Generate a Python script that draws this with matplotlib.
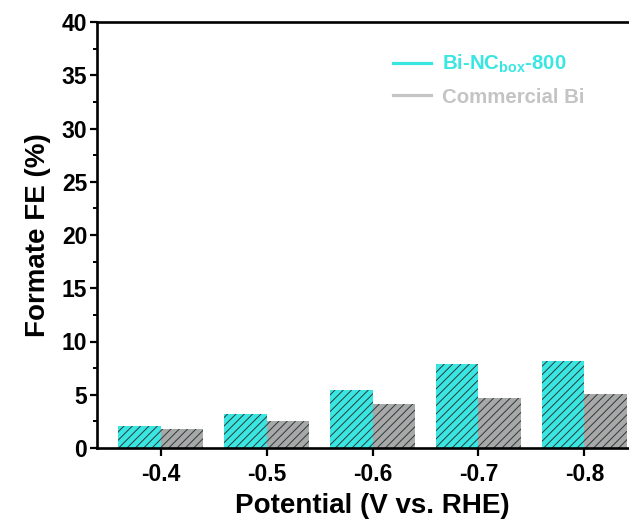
import matplotlib
matplotlib.use("Agg")
import matplotlib.pyplot as plt
import numpy as np
from matplotlib.ticker import MultipleLocator

# =========================
# Data
# =========================
potentials = ["-0.4", "-0.5", "-0.6", "-0.7", "-0.8"]
fe_binc = [2.1, 3.2, 5.4, 7.85, 8.15]
fe_commercial = [1.8, 2.5, 4.15, 4.7, 5.05]

series_names = [r"Bi-NC$_\mathbf{box}$-800", "Commercial Bi"]

CYAN = "#3ae6e2"
GRAY = "#a8a8a8"

# =========================
# Style
# =========================
plt.rcParams["font.family"] = ["Liberation Sans", "DejaVu Sans"]
plt.rcParams["font.weight"] = "bold"
plt.rcParams["mathtext.fontset"] = "custom"
plt.rcParams["mathtext.rm"] = "Liberation Sans:bold"
plt.rcParams["mathtext.bf"] = "Liberation Sans:bold"
plt.rcParams["hatch.linewidth"] = 0.7
plt.rcParams["hatch.color"] = "#2b3a3a"

fig = plt.figure(figsize=(6.29, 5.26), dpi=100)
# axes run past the right edge, as in the cropped original
ax = fig.add_axes([97 / 629, 1 - 448 / 526, 551 / 629, 426 / 526])

x = np.arange(len(potentials))
w = 0.4
ax.bar(x - w / 2, fe_binc, w, color=CYAN, hatch="////", linewidth=0)
ax.bar(x + w / 2, fe_commercial, w, color=GRAY, hatch="////", linewidth=0)

ax.set_xlim(-0.6, 4.6)
ax.set_ylim(0, 40)
ax.set_xticks(x)
ax.set_xticklabels(potentials)
ax.yaxis.set_major_locator(MultipleLocator(5))
ax.yaxis.set_minor_locator(MultipleLocator(2.5))

for s in ax.spines.values():
    s.set_linewidth(1.9)
ax.tick_params(axis="both", which="major", direction="out", length=5,
               width=1.6, labelsize=16.5, pad=2)
ax.tick_params(axis="y", which="minor", direction="out", length=3, width=1.4)
ax.tick_params(axis="x", which="major", length=6, pad=5)

ax.set_xlabel("Potential (V vs. RHE)", fontsize=20, fontweight="bold", labelpad=5)
ax.set_ylabel("Formate FE (%)", fontsize=20, fontweight="bold", labelpad=8)

# legend drawn with plain lines, like the original
h1, = ax.plot([], [], color=CYAN, lw=2.3)
h2, = ax.plot([], [], color="#c4c4c4", lw=2.3)
leg = fig.legend([h1, h2], series_names, loc="upper left",
                 bbox_to_anchor=(393 / 629, 1 - 53 / 526), frameon=False,
                 fontsize=14.7, handlelength=1.85, handletextpad=0.55,
                 labelspacing=0.6, borderpad=0, borderaxespad=0)
leg.get_texts()[0].set_color(CYAN)
leg.get_texts()[1].set_color("#c4c4c4")

fig.savefig("out.png", dpi=100)
